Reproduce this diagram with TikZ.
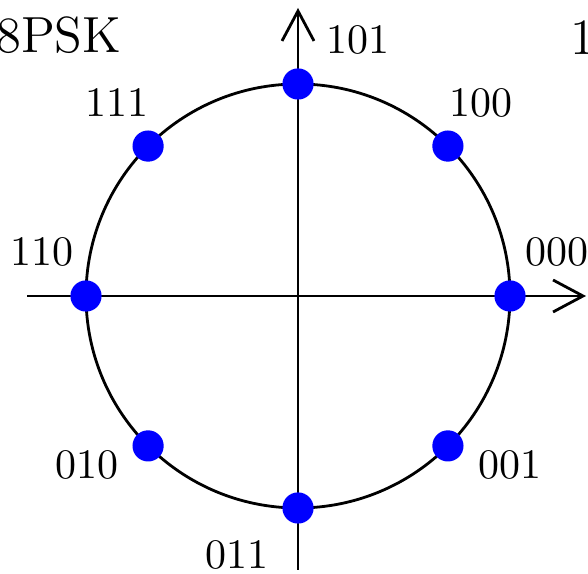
\documentclass[tikz,border=0pt]{standalone}
\usetikzlibrary{arrows.meta,calc}
\begin{document}
\begin{tikzpicture}[x=0.25pt,y=-0.25pt,
  ln/.style={line width=0.7pt},
  ax/.style={ln,-{Straight Barb[length=7.5pt,width=8pt,line width=0.7pt]}},
  pt/.style={circle,fill=blue,inner sep=0pt,minimum size=7.8pt},
  lab/.style={inner sep=0pt,font=\fontsize{10.5}{12}\selectfont},
  ttl/.style={inner sep=0pt,font=\fontsize{12.7}{15}\selectfont}]
\useasboundingbox (0,0) rectangle (588,574);
\coordinate (C) at (298,296);
\coordinate (xl) at (27,296);
\coordinate (xr) at (586,296);
\coordinate (yb) at (298,570);
\coordinate (yt) at (298,8);
\draw[ln] (C) circle[radius=212];
\draw[ax] (xl) -- (xr);
\draw[ax] (yb) -- (yt);
\foreach \a/\n in {0/p0,45/p1,90/p2,135/p3,180/p4,225/p5,270/p6,315/p7}
  \node[pt] (\n) at ($(C)+(\a:212 and -212)$) {};
\node[lab] (l000) at (557,252) {000};
\node[lab] (l100) at (481,103) {100};
\node[lab] (l101) at (358,40) {101};
\node[lab] (l111) at (117,103) {111};
\node[lab] (l110) at (42,252) {110};
\node[lab] (l010) at (87,465) {010};
\node[lab] (l011) at (237,555) {011};
\node[lab] (l001) at (510,465) {001};
\node[ttl,anchor=base east] (t1) at (122,53) {8PSK};
\node[ttl,anchor=base west] (t2) at (570,55) {1};
\end{tikzpicture}
\end{document}
